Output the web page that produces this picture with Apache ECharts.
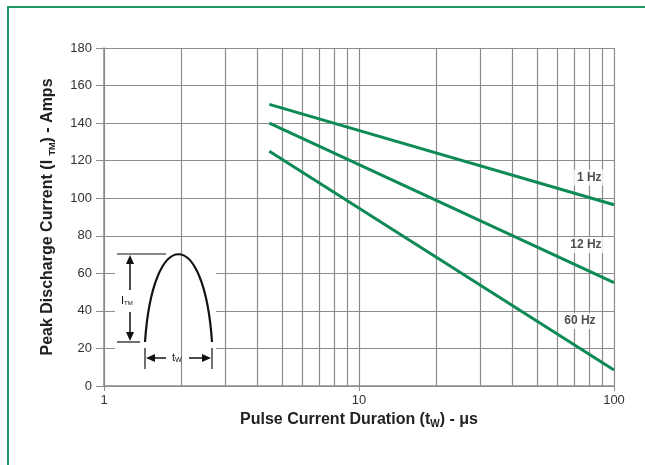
<!DOCTYPE html>
<html>
<head>
<meta charset="utf-8">
<script src="https://cdn.jsdelivr.net/npm/echarts@6/dist/echarts.min.js"></script>
<style>
html, body { margin: 0; padding: 0; background: #fff; }
#chart { width: 645px; height: 465px; }
</style>
</head>
<body>
<div id="chart"></div>
<script>
// pulse duration (us), log axis
var durations = [4.45, 100];
var hz1 = [150, 96.5];
var hz12 = [140, 55];
var hz60 = [125, 8.5];
// extra grid lines between the decades
var minorTicks = [2, 3, 4, 5, 6, 7, 8, 9, 20, 30, 40, 50, 60, 70, 80, 90];
var yTicks = [0, 20, 40, 60, 80, 100, 120, 140, 160, 180];
// rate labels: [x, y, text]
var rateLabels = [[80, 111, '1 Hz'], [77.6, 75, '12 Hz'], [73.5, 34.6, '60 Hz']];

var GREEN = '#0e8a56';
var GRID = '#8c8c8c';
var FONT = '"Liberation Sans", Arial, sans-serif';

var chart = echarts.init(document.getElementById('chart'));

function pairs(xs, ys) {
	var out = [];
	for (var i = 0; i < xs.length; i++) {
		out.push([xs[i], ys[i]]);
	}
	return out;
}

function lineSeries(name, ys) {
	return {
		name: name,
		type: 'line',
		data: pairs(durations, ys),
		symbol: 'none',
		z: 5,
		lineStyle: { color: GREEN, width: 3 }
	};
}

var option = {
	animation: false,
	grid: { left: 104, right: 31, top: 48, bottom: 79 },
	xAxis: {
		type: 'log',
		logBase: 10,
		min: 1,
		max: 100,
		name: 'Pulse Current Duration (t{sub|W}) - μs',
		nameLocation: 'middle',
		nameGap: 21,
		nameTextStyle: {
			fontFamily: FONT, fontSize: 16, fontWeight: 'bold', color: '#222',
			rich: {
				sub: { fontFamily: FONT, fontSize: 10, fontWeight: 'bold', color: '#222', padding: [9, 0, 0, 0] }
			}
		},
		axisLine: { lineStyle: { color: GRID, width: 1.5 } },
		axisTick: { show: true, inside: false, length: 5, lineStyle: { color: GRID } },
		axisLabel: { fontFamily: FONT, fontSize: 13, color: '#333', margin: 8 },
		splitLine: { show: true, lineStyle: { color: GRID, width: 1.2 } }
	},
	yAxis: {
		type: 'value',
		min: 0,
		max: 180,
		interval: 20,
		name: 'Peak Discharge Current (I {sub|TM}) - Amps',
		nameLocation: 'middle',
		nameGap: 47,
		nameTextStyle: {
			fontFamily: FONT, fontSize: 16, fontWeight: 'bold', color: '#222',
			rich: {
				sub: { fontFamily: FONT, fontSize: 9, fontWeight: 'bold', color: '#222', padding: [9, 0, 0, 0] }
			}
		},
		axisLine: { show: true, lineStyle: { color: GRID, width: 1.5 } },
		axisTick: { show: true, length: 8, lineStyle: { color: GRID } },
		axisLabel: {
			fontFamily: FONT, fontSize: 13, color: '#333', margin: 12,
			formatter: function(v) { return yTicks.indexOf(v) >= 0 ? String(v) : ''; }
		},
		splitLine: { show: true, lineStyle: { color: GRID, width: 1.2 } }
	},
	series: [{
		type: 'line',
		data: [],
		z: 1,
		silent: true,
		markLine: {
			silent: true,
			symbol: 'none',
			animation: false,
			label: { show: false },
			lineStyle: { color: GRID, width: 1.2, type: 'solid' },
			data: minorTicks.map(function(t) { return { xAxis: t }; })
		}
	},
		lineSeries('1 Hz', hz1),
		lineSeries('12 Hz', hz12),
		lineSeries('60 Hz', hz60),
	{
		type: 'scatter',
		symbolSize: 0,
		z: 6,
		silent: true,
		data: rateLabels.map(function(r) { return { value: [r[0], r[1]], name: r[2] }; }),
		label: {
			show: true,
			position: 'inside',
			formatter: '{b}',
			fontFamily: FONT,
			fontSize: 12,
			fontWeight: 'bold',
			color: '#222',
			backgroundColor: '#fff',
			padding: [2, 3]
		}
	}],
	graphic: [
		// green frame, left and top only
		{ type: 'line', z: 10, shape: { x1: 8, y1: 7, x2: 8, y2: 465 }, style: { stroke: '#1f9a64', lineWidth: 2 } },
		{ type: 'line', z: 10, shape: { x1: 7, y1: 7, x2: 645, y2: 7 }, style: { stroke: '#1f9a64', lineWidth: 2 } },
		// white patch behind the pulse sketch
		{ type: 'rect', z: 3, shape: { x: 115, y: 246, width: 101, height: 129 }, style: { fill: '#fff' } },
		// pulse shape
		{ type: 'bezierCurve', z: 10,
			shape: { x1: 145, y1: 342, cpx1: 153, cpy1: 225, cpx2: 204, cpy2: 225, x2: 212, y2: 342 },
			style: { stroke: '#111', lineWidth: 2.2, fill: null } },
		{ type: 'line', z: 10, shape: { x1: 117, y1: 254, x2: 166, y2: 254 }, style: { stroke: '#111', lineWidth: 1.2 } },
		{ type: 'line', z: 10, shape: { x1: 117, y1: 342, x2: 140, y2: 342 }, style: { stroke: '#111', lineWidth: 1.2 } },
		// I_TM arrow
		{ type: 'line', z: 10, shape: { x1: 130, y1: 262, x2: 130, y2: 290 }, style: { stroke: '#111', lineWidth: 1.5 } },
		{ type: 'line', z: 10, shape: { x1: 130, y1: 312, x2: 130, y2: 334 }, style: { stroke: '#111', lineWidth: 1.5 } },
		{ type: 'polygon', z: 10, shape: { points: [[130, 255], [126, 264], [134, 264]] }, style: { fill: '#111' } },
		{ type: 'polygon', z: 10, shape: { points: [[130, 341], [126, 332], [134, 332]] }, style: { fill: '#111' } },
		{ type: 'text', z: 10, x: 121, y: 301,
			style: { text: 'I{s|TM}', fontFamily: FONT, fontSize: 11, fill: '#111', verticalAlign: 'middle',
				rich: { s: { fontFamily: FONT, fontSize: 6, fill: '#111', padding: [4, 0, 0, 0] } } } },
		// t_W dimension
		{ type: 'line', z: 10, shape: { x1: 145, y1: 348, x2: 145, y2: 369 }, style: { stroke: '#111', lineWidth: 1.2 } },
		{ type: 'line', z: 10, shape: { x1: 212, y1: 348, x2: 212, y2: 369 }, style: { stroke: '#111', lineWidth: 1.2 } },
		{ type: 'line', z: 10, shape: { x1: 154, y1: 358, x2: 166, y2: 358 }, style: { stroke: '#111', lineWidth: 1.5 } },
		{ type: 'line', z: 10, shape: { x1: 189, y1: 358, x2: 203, y2: 358 }, style: { stroke: '#111', lineWidth: 1.5 } },
		{ type: 'polygon', z: 10, shape: { points: [[146, 358], [155, 354], [155, 362]] }, style: { fill: '#111' } },
		{ type: 'polygon', z: 10, shape: { points: [[211, 358], [202, 354], [202, 362]] }, style: { fill: '#111' } },
		{ type: 'text', z: 10, x: 172, y: 358,
			style: { text: 't{s|W}', fontFamily: FONT, fontSize: 11, fill: '#111', verticalAlign: 'middle',
				rich: { s: { fontFamily: FONT, fontSize: 7, fill: '#111', padding: [5, 0, 0, 0] } } } }
	]
};

chart.setOption(option);
</script>
</body>
</html>
